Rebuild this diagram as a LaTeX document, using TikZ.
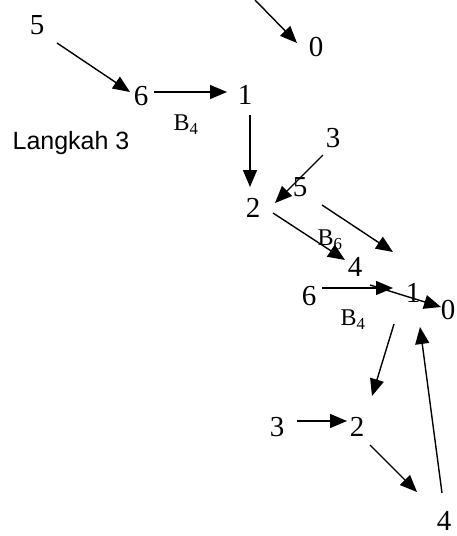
\documentclass[tikz,border=0pt]{standalone}
\usepackage{fontspec}
\setmainfont{Liberation Serif}
\newfontfamily\stepfont{Liberation Sans}
\usetikzlibrary{arrows.meta}

\begin{document}
\begin{tikzpicture}[x = 1pt, y = -1pt,
    num/.style = {inner sep = 0pt, font = \fontsize{29}{29}\selectfont},
    bname/.style = {inner sep = 0pt, font = \fontsize{24}{24}\selectfont},
    arr/.style = {line width = 1.4pt, -{Triangle[length = 17pt, width = 14pt]}}]

        \useasboundingbox (0,0) rectangle (456,536);

%mark labels
        \node[num] (top5) at (37,25) {5};
        \node[num] (top6) at (141,96) {6};
        \node[num] (top1) at (245,95) {1};
        \node[num] (top0) at (316,47) {0};
        \node[bname] (topB) at (186,125) {B\textsubscript{4}};
        \node[inner sep = 0pt, font = \stepfont\fontsize{25}{25}\selectfont] (step) at (71,143) {Langkah 3};

        \node[num] (mid3) at (333,138) {3};
        \node[num] (mid5) at (300,187) {5};
        \node[num] (mid2) at (253,208) {2};
        \node[bname] (midB) at (330,240) {B\textsubscript{6}};
        \node[num] (mid4) at (355,267) {4};
        \node[num] (mid6) at (309,296) {6};
        \node[num] (mid1) at (413,293) {1};
        \node[num] (mid0) at (448,310) {0};
        \node[bname] (lowB) at (353,320) {B\textsubscript{4}};

        \node[num] (low3) at (277,427) {3};
        \node[num] (low2) at (357,427) {2};
        \node[num] (low4) at (444,521) {4};

%arrow ends
        \coordinate (s1) at (57,43);   \coordinate (e1) at (130,92);
        \coordinate (s2) at (154,92);  \coordinate (e2) at (227,92);
        \coordinate (s3) at (255,0);   \coordinate (e3) at (297,43);
        \coordinate (s4) at (250,115); \coordinate (e4) at (250,187);
        \coordinate (s5) at (323,155); \coordinate (e5) at (275,203);
        \coordinate (s6) at (273,213); \coordinate (e6) at (345,260);
        \coordinate (s7) at (322,205); \coordinate (e7) at (393,252);
        \coordinate (s8) at (322,288); \coordinate (e8) at (393,288);
        \coordinate (s9) at (370,285); \coordinate (e9) at (441,307);
        \coordinate (s10) at (394,324); \coordinate (e10) at (372,396);
        \coordinate (s11) at (442,493); \coordinate (e11) at (420,327);
        \coordinate (s12) at (297,421); \coordinate (e12) at (347,421);
        \coordinate (s13) at (370,445); \coordinate (e13) at (417,492);

        \foreach \i in {1,...,13}
            \draw[arr] (s\i) -- (e\i);
\end{tikzpicture}
\end{document}
